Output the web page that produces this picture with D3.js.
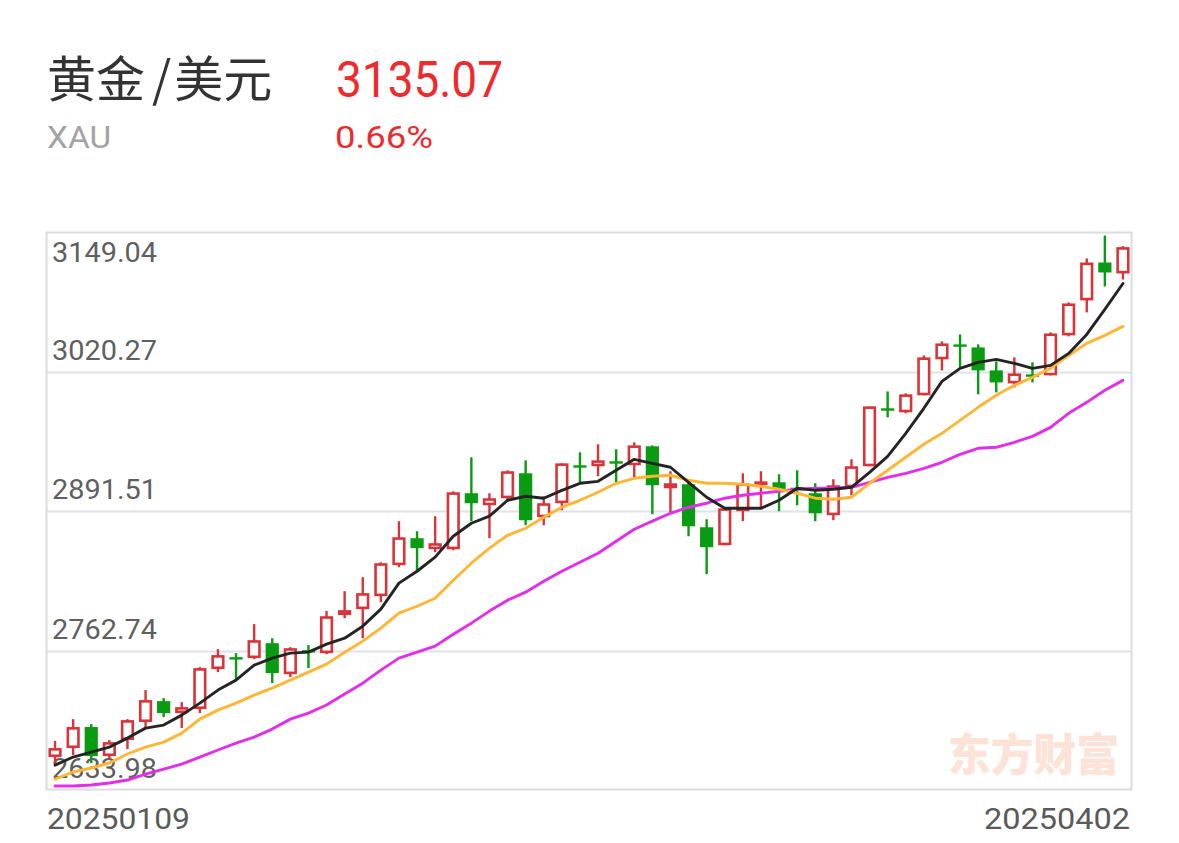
<!DOCTYPE html>
<html>
<head>
<meta charset="utf-8">
<script src="https://cdn.jsdelivr.net/npm/d3@7"></script>
<style>
html,body{margin:0;padding:0;background:#fff;}
svg{display:block;}
</style>
</head>
<body>
<script>
// ---- data ----
const titleText = "黄金/美元";
const codeText = "XAU";
const priceText = "3135.07";
const changeText = "0.66%";
const watermarkText = "东方财富";
const dateLabels = ["20250109", "20250402"];
const yTicks = [3149.04, 3020.27, 2891.51, 2762.74, 2633.98];

const openV = [2664.4, 2672.7, 2692.1, 2665.3, 2680.1, 2696.7, 2716.0, 2705.0, 2708.7, 2745.6,
 2756.6, 2755.7, 2769.5, 2740.9, 2763.1, 2760.3, 2795.4, 2800.9, 2812.9, 2841.5,
 2866.4, 2856.2, 2856.2, 2907.9, 2896.8, 2903.3, 2926.3, 2885.7, 2898.7, 2933.7,
 2932.8, 2937.4, 2933.7, 2951.2, 2912.5, 2916.2, 2876.5, 2859.9, 2891.3, 2915.3,
 2918.0, 2913.0, 2907.9, 2887.6, 2913.4, 2932.8, 2986.3, 2982.6, 2998.3, 3031.5,
 3045.3, 3042.5, 3021.3, 3009.3, 3017.6, 3016.7, 3053.6, 3085.9, 3120.9, 3110.8];
const closeV = [2672.7, 2692.1, 2665.3, 2678.2, 2698.5, 2717.0, 2705.0, 2710.5, 2746.5, 2758.5,
 2754.8, 2772.3, 2741.9, 2764.9, 2761.2, 2794.4, 2800.0, 2815.7, 2843.3, 2867.3,
 2857.2, 2861.8, 2908.8, 2898.7, 2903.3, 2928.2, 2883.0, 2898.7, 2935.5, 2931.9,
 2938.3, 2935.5, 2952.1, 2915.3, 2917.1, 2877.4, 2858.1, 2894.0, 2917.1, 2918.9,
 2911.6, 2911.9, 2889.4, 2915.3, 2932.8, 2988.1, 2984.4, 2999.2, 3033.3, 3046.2,
 3043.4, 3021.3, 3010.2, 3018.5, 3015.8, 3055.4, 3083.1, 3120.9, 3111.7, 3135.07];
const highV = [2679.2, 2699.4, 2694.8, 2680.1, 2699.4, 2726.2, 2718.8, 2715.1, 2747.4, 2764.0,
 2760.3, 2787.1, 2774.1, 2765.8, 2767.7, 2799.1, 2817.5, 2830.4, 2844.2, 2882.1,
 2872.8, 2886.7, 2909.7, 2941.1, 2907.9, 2929.1, 2938.3, 2905.1, 2935.5, 2945.7,
 2953.1, 2948.5, 2954.9, 2952.1, 2928.2, 2917.1, 2883.9, 2894.0, 2926.3, 2928.2,
 2925.4, 2929.1, 2917.1, 2920.8, 2939.2, 2988.1, 3001.9, 3000.1, 3035.1, 3048.1,
 3054.5, 3045.3, 3029.6, 3033.3, 3028.7, 3056.4, 3084.0, 3124.6, 3145.8, 3136.0];
const lowV = [2658.9, 2666.2, 2658.9, 2662.6, 2671.8, 2692.1, 2701.3, 2691.1, 2705.0, 2742.8,
 2735.4, 2754.8, 2732.6, 2738.2, 2746.5, 2759.4, 2792.6, 2774.1, 2807.3, 2839.6,
 2835.0, 2853.5, 2855.3, 2882.1, 2866.4, 2901.0, 2878.4, 2878.4, 2892.2, 2918.0,
 2923.6, 2918.0, 2922.6, 2888.5, 2890.3, 2868.2, 2833.2, 2859.9, 2882.1, 2894.0,
 2891.3, 2896.8, 2882.1, 2883.0, 2906.0, 2932.8, 2978.0, 2981.7, 2998.3, 3021.3,
 3024.1, 2999.2, 3001.0, 3005.6, 3010.2, 3016.7, 3052.7, 3074.8, 3098.8, 3105.2];

const ma5 = [2657.0, 2664.4, 2669.0, 2673.6, 2681.9, 2691.1, 2693.9, 2703.1, 2714.2, 2726.2,
 2735.4, 2749.2, 2755.7, 2760.3, 2761.2, 2768.6, 2774.1, 2785.2, 2800.9, 2824.9,
 2835.9, 2848.9, 2868.2, 2880.2, 2886.7, 2901.4, 2905.1, 2903.3, 2910.6, 2917.1,
 2918.9, 2929.1, 2939.2, 2935.5, 2931.9, 2918.0, 2904.2, 2894.0, 2894.0, 2894.0,
 2901.4, 2912.5, 2910.6, 2911.6, 2913.4, 2927.2, 2942.0, 2963.2, 2986.3, 3011.2,
 3023.2, 3028.7, 3031.5, 3027.8, 3023.2, 3025.9, 3037.0, 3054.5, 3077.6, 3101.5];
const ma10 = [2644.1, 2650.6, 2654.3, 2658.9, 2667.2, 2673.6, 2678.2, 2686.5, 2699.4, 2707.7,
 2714.2, 2721.6, 2728.0, 2735.4, 2742.8, 2750.2, 2761.2, 2771.4, 2783.4, 2797.2,
 2803.6, 2811.0, 2827.6, 2843.3, 2857.2, 2869.1, 2875.6, 2885.7, 2895.0, 2901.4,
 2908.8, 2917.1, 2921.7, 2923.6, 2924.5, 2919.9, 2917.1, 2917.1, 2916.2, 2914.3,
 2911.6, 2907.9, 2903.3, 2902.3, 2904.2, 2917.1, 2929.1, 2941.1, 2953.1, 2963.2,
 2975.2, 2987.2, 2998.3, 3007.5, 3014.9, 3023.2, 3035.1, 3046.2, 3053.6, 3061.9];
const ma20 = [2637.7, 2637.7, 2638.6, 2640.4, 2643.2, 2648.7, 2653.3, 2657.9, 2664.4, 2670.9,
 2677.3, 2682.8, 2690.2, 2699.4, 2705.0, 2712.4, 2722.5, 2732.6, 2744.6, 2755.7,
 2761.2, 2766.8, 2777.8, 2788.0, 2799.1, 2809.2, 2816.6, 2826.7, 2835.9, 2844.2,
 2852.5, 2863.6, 2874.7, 2882.1, 2889.4, 2895.0, 2898.7, 2903.3, 2906.0, 2907.9,
 2909.7, 2911.6, 2912.5, 2912.5, 2913.4, 2918.0, 2922.6, 2926.3, 2930.9, 2936.5,
 2943.8, 2949.4, 2950.3, 2954.9, 2960.4, 2968.7, 2981.7, 2991.8, 3002.9, 3012.1];

// ---- layout ----
const W = 1179, H = 843;
const plot = {left: 46, right: 1132, top: 232, bottom: 790};
const UP = "#d8343a", DOWN = "#099b12";

const svg = d3.select("body").append("svg").attr("width", W).attr("height", H);
svg.append("rect").attr("width", W).attr("height", H).attr("fill", "#fff");

const n = openV.length;
const idx = d3.range(n);
const x = d3.scaleBand().domain(idx).range([plot.left, plot.right]).paddingInner(0.27).paddingOuter(0.135);
const cx = i => x(i) + x.bandwidth() / 2;
const y = d3.scaleLinear().domain([yTicks[yTicks.length - 1], yTicks[0]]).range([plot.bottom, plot.top]);

// header
const cjk = "'Noto Sans CJK SC', 'Noto Sans', sans-serif";
const num = "Roboto, 'Liberation Sans', sans-serif";
const title = svg.append("text").attr("x", 47).attr("y", 97).attr("font-family", cjk).attr("font-size", 49)
  .attr("fill", "#333");
const tParts = titleText.split("/");
title.append("tspan").text(tParts[0]);
title.append("tspan").attr("dx", 7).text("/");
title.append("tspan").attr("dx", 3).text(tParts[1]);
svg.append("text").attr("x", 336).attr("y", 97).attr("font-family", num).attr("font-size", 50)
  .attr("fill", "#ee2a2e").attr("textLength", 167).attr("lengthAdjust", "spacingAndGlyphs").text(priceText);
svg.append("text").attr("x", 47).attr("y", 148).attr("font-family", num).attr("font-size", 32)
  .attr("fill", "#a3a3a3").attr("textLength", 64).attr("lengthAdjust", "spacingAndGlyphs").text(codeText);
svg.append("text").attr("x", 335).attr("y", 148).attr("font-family", num).attr("font-size", 32)
  .attr("fill", "#ee2a2e").attr("textLength", 98).attr("lengthAdjust", "spacingAndGlyphs").text(changeText);

// grid
const g = svg.append("g");
g.selectAll("line.grid").data(yTicks.slice(1, -1)).enter().append("line")
  .attr("x1", plot.left).attr("x2", plot.right)
  .attr("y1", d => Math.round(y(d)) + 0.5).attr("y2", d => Math.round(y(d)) + 0.5)
  .attr("stroke", "#e1e1e8").attr("stroke-width", 2);
g.append("rect").attr("x", plot.left + 0.5).attr("y", plot.top + 0.5)
  .attr("width", plot.right - plot.left - 1).attr("height", plot.bottom - plot.top - 1)
  .attr("fill", "none").attr("stroke", "#dcdce2").attr("stroke-width", 2);

// watermark
svg.append("text").attr("x", 948).attr("y", 771).attr("font-family", cjk).attr("font-weight", 900)
  .attr("font-size", 44).attr("fill", "#fce2d7").attr("textLength", 171)
  .attr("lengthAdjust", "spacingAndGlyphs").text(watermarkText);

// y labels
svg.selectAll("text.ylab").data(yTicks).enter().append("text")
  .attr("x", 52)
  .attr("y", (d, i) => i === 0 ? y(d) + 30 : y(d) - 12)
  .attr("font-family", num).attr("font-size", 27).attr("fill", "#5f5f5f")
  .attr("textLength", 105).attr("lengthAdjust", "spacingAndGlyphs")
  .text(d => d.toFixed(2));

// dates
svg.append("text").attr("x", 47).attr("y", 829).attr("font-family", num).attr("font-size", 30)
  .attr("fill", "#5a5a5a").attr("textLength", 143).attr("lengthAdjust", "spacingAndGlyphs").text(dateLabels[0]);
svg.append("text").attr("x", 1130).attr("y", 829).attr("font-family", num).attr("font-size", 30)
  .attr("text-anchor", "end")
  .attr("fill", "#5a5a5a").attr("textLength", 146).attr("lengthAdjust", "spacingAndGlyphs").text(dateLabels[1]);

// candles
const candles = svg.append("g").selectAll("g").data(idx).enter().append("g");
candles.each(function(i) {
  const sel = d3.select(this);
  const up = closeV[i] >= openV[i];
  const col = up ? UP : DOWN;
  const c = cx(i);
  const top = y(Math.max(openV[i], closeV[i]));
  const bot = y(Math.min(openV[i], closeV[i]));
  sel.append("line").attr("x1", c).attr("x2", c).attr("y1", y(highV[i])).attr("y2", y(lowV[i]))
    .attr("stroke", col).attr("stroke-width", 2.4);
  const bw = x.bandwidth();
  const h = Math.max(bot - top, 2.4);
  if (up) {
    sel.append("rect").attr("x", c - bw / 2 + 1.3).attr("y", top + 1.3)
      .attr("width", bw - 2.6).attr("height", Math.max(h - 2.6, 0.1))
      .attr("fill", "#fff").attr("stroke", col).attr("stroke-width", 2.6);
  } else {
    sel.append("rect").attr("x", c - bw / 2).attr("y", top)
      .attr("width", bw).attr("height", h).attr("fill", col);
  }
});

// moving averages
const line = arr => d3.line().x((d, i) => cx(i)).y(d => y(d)).curve(d3.curveLinear)(arr);
[[ma20, "#e22ee8"], [ma10, "#ffb634"], [ma5, "#242424"]].forEach(([arr, col]) => {
  svg.append("path").attr("d", line(arr)).attr("fill", "none").attr("stroke", col)
    .attr("stroke-width", 2.9).attr("stroke-linejoin", "round").attr("stroke-linecap", "round");
});
</script>
</body>
</html>
